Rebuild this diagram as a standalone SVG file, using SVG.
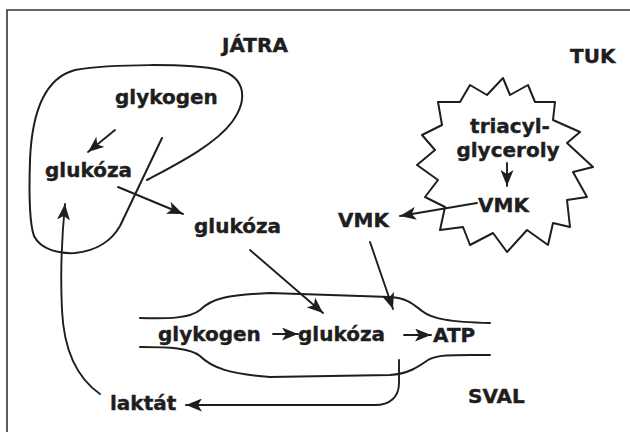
<svg xmlns="http://www.w3.org/2000/svg" width="630" height="432" viewBox="0 0 630 432">
<style>
  text { font-family: "DejaVu Sans", "Liberation Sans", sans-serif; font-weight: bold; font-size: 20px; fill: #1e1e1e; stroke: #1e1e1e; stroke-width: 0.4; }
  .outline { fill: none; stroke: #1e1e1e; stroke-width: 2; stroke-linejoin: round; stroke-linecap: round; }
  .conn { fill: none; stroke: #1e1e1e; stroke-width: 1.9; stroke-linecap: round; }
  .arr { marker-end: url(#ah); }
  .mid { text-anchor: middle; }
</style>
<defs>
  <marker id="ah" markerUnits="userSpaceOnUse" markerWidth="17" markerHeight="13" refX="16" refY="6.5" orient="auto">
    <path d="M0,0 L16,6.5 L0,13 L4,6.5 z" fill="#1e1e1e"/>
  </marker>
</defs>
<rect width="630" height="432" fill="#ffffff"/>
<path d="M7,432 L7,10 L630,10" fill="none" stroke="#333" stroke-width="1.6"/>

<g id="liver">
  <path class="outline" d="M147,180 C175,165 215,145 232,122 C248,100 246,78 220,70 C190,63 110,64 75,70 C45,78 32,110 30,160 C29,190 29,222 34,236 C41,250 60,254 75,253 C97,251 112,240 120,226 L162,138"/>
  <text x="222" y="52">JÁTRA</text>
  <text id="liver-glykogen" x="115" y="104">glykogen</text>
  <text id="liver-glukoza" x="45" y="177">glukóza</text>
</g>

<g id="fat">
  <polygon class="outline" points="503,78 510,95 528,85 535,102 555,102 553,120 580,132 567,143 593,167 573,172 587,197 567,200 570,227 553,223 548,245 527,230 507,252 493,233 470,245 463,227 440,230 445,207 425,197 438,180 417,165 435,150 422,135 442,125 438,102 460,102 470,85 487,95"/>
  <text x="570" y="63">TUK</text>
  <text class="mid" x="510" y="133">triacyl-</text>
  <text class="mid" x="508" y="157">glyceroly</text>
  <text id="fat-vmk" x="478" y="212">VMK</text>
</g>

<g id="blood-glukoza">
  <text x="194" y="233">glukóza</text>
</g>

<g id="blood-vmk">
  <text x="338" y="227">VMK</text>
</g>

<g id="muscle">
  <path class="outline" d="M140,318 C170,319 190,318 200,310 C212,298 228,295 270,293 L390,297 C408,298 414,305 422,311 C432,319 450,322 490,323"/>
  <path class="outline" d="M140,347 C170,347 190,348 200,356 C212,368 230,374 270,377 L390,375 C408,374 418,367 428,360 C438,354 455,355 490,355"/>
  <text x="158" y="341">glykogen</text>
  <text x="298" y="341">glukóza</text>
  <text x="433" y="342">ATP</text>
  <text x="468" y="403">SVAL</text>
</g>

<g id="laktat">
  <text x="110" y="410">laktát</text>
</g>

<g id="connectors">
  <line class="conn arr" x1="115" y1="130" x2="88" y2="152"/>
  <line class="conn arr" x1="118" y1="187" x2="183" y2="214"/>
  <line class="conn arr" x1="507" y1="163" x2="507" y2="186"/>
  <line class="conn arr" x1="477" y1="203" x2="400" y2="216"/>
  <line class="conn arr" x1="250" y1="250" x2="323" y2="313"/>
  <line class="conn arr" x1="370" y1="242" x2="393" y2="309"/>
  <line class="conn arr" x1="273" y1="334" x2="298" y2="334"/>
  <line class="conn arr" x1="404" y1="335" x2="431" y2="335"/>
  <path class="conn arr" d="M399,360 L399,383 C399,397 390,405 375,405 L186,405"/>
  <path class="conn arr" d="M100,394 C80,380 64,355 62,310 C60,270 62,235 65,204"/>
</g>
</svg>
